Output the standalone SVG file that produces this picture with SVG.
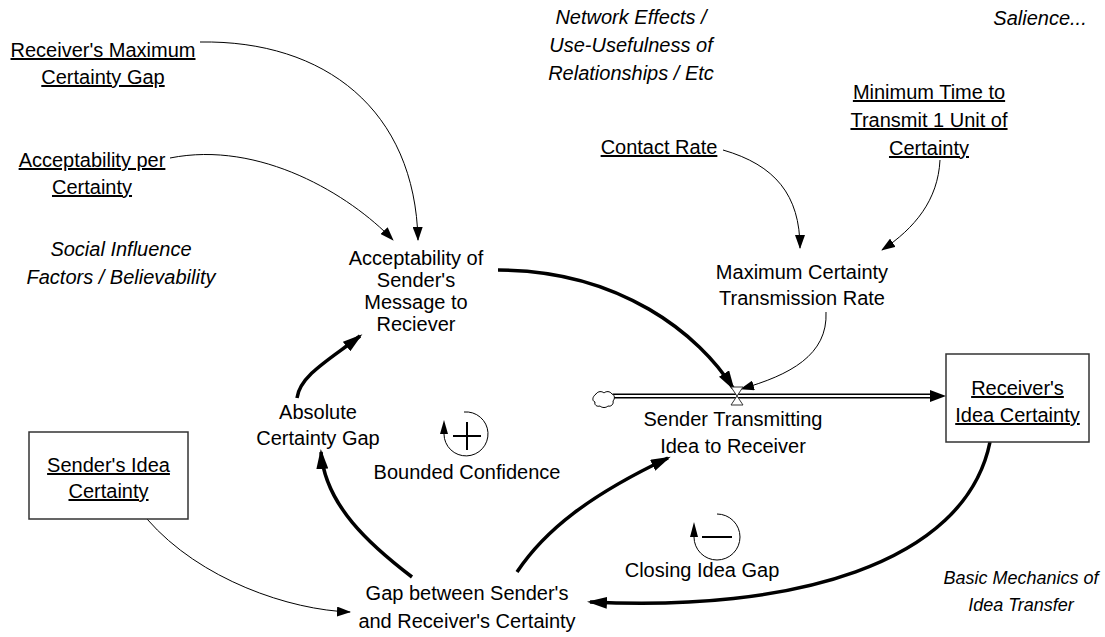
<svg xmlns="http://www.w3.org/2000/svg" width="1105" height="637" viewBox="0 0 1105 637">
  <style>
    text { font-family: "Liberation Sans", Arial, sans-serif; font-size: 20px; fill: #000; text-anchor: middle; }
    .u { text-decoration: underline; }
    .i { font-style: italic; }
    text.small { font-size: 18px; }
    .thin { fill: none; stroke: #000; stroke-width: 1; }
    .thick { fill: none; stroke: #000; stroke-width: 3.5; }
    .box { fill: #fff; stroke: #333; stroke-width: 1.5; }
  </style>
  <defs>
    <marker id="ah" viewBox="0 0 14 10" refX="13" refY="5" markerWidth="14" markerHeight="10" markerUnits="userSpaceOnUse" orient="auto">
      <path d="M0,0 L14,5 L0,10 z" fill="#000"/>
    </marker>
    <marker id="ahThick" viewBox="0 0 20 12" refX="17" refY="6" markerWidth="20" markerHeight="12" markerUnits="userSpaceOnUse" orient="auto">
      <path d="M0,0 L20,6 L0,12 z" fill="#000"/>
    </marker>
  </defs>
  <rect width="1105" height="637" fill="#fff"/>

  <!-- connectors -->
  <g id="connectors">
    <path class="thin" d="M200,42 C325,40 415,110 418,240" marker-end="url(#ah)"/>
    <path class="thin" d="M170,158 C260,140 350,195 393,240" marker-end="url(#ah)"/>
    <path class="thin" d="M723,150 C775,165 800,195 800,248" marker-end="url(#ah)"/>
    <path class="thin" d="M940,160 C938,200 915,228 882,250" marker-end="url(#ah)"/>
    <path class="thin" d="M826,312 C828,355 790,375 741,389" marker-end="url(#ah)"/>
    <path class="thick" d="M498,270 C620,270 700,335 733,388" marker-end="url(#ahThick)"/>
    <path class="thick" d="M517,572 C545,530 590,495 668,458" marker-end="url(#ahThick)"/>
    <path class="thick" d="M412,577 C370,545 325,505 321,452" marker-end="url(#ahThick)"/>
    <path class="thick" d="M297,398 C300,375 332,358 360,336" marker-end="url(#ahThick)"/>
    <path class="thin" d="M147,519 C200,580 290,610 350,612" marker-end="url(#ah)"/>
    <path class="thick" d="M990,442 C965,565 790,612 590,602" marker-end="url(#ahThick)"/>
  </g>

  <!-- flow pipe into the receiver stock -->
  <g id="flow">
    <path d="M613,396 H932" stroke="#000" stroke-width="5" fill="none"/>
    <path d="M613,396 H932" stroke="#fff" stroke-width="2" fill="none"/>
    <path d="M930,390 L946,396 L930,402 z" fill="#000"/>
    <path d="M596,394 c2,-3 6,-3 8,-1 c2,-2 6,-2 8,1 c3,1 3,5 1,7 c1,3 -2,6 -5,5 c-2,2 -6,2 -8,0 c-3,1 -6,-1 -5,-4 c-3,-1 -3,-5 1,-8 z" fill="#fff" stroke="#000" stroke-width="1"/>
    <path d="M731,387 L743,387 L737,396 L743,405 L731,405 L737,396 z" fill="#fff" stroke="#333" stroke-width="1"/>
  </g>

  <g id="receivers-max-gap">
    <text class="u" x="103" y="57">Receiver's Maximum</text>
    <text class="u" x="103" y="84">Certainty Gap</text>
  </g>
  <g id="acceptability-per-certainty">
    <text class="u" x="92" y="167">Acceptability per</text>
    <text class="u" x="92" y="194">Certainty</text>
  </g>
  <g id="social-influence-note">
    <text class="i" x="121" y="256">Social Influence</text>
    <text class="i" x="121" y="284">Factors / Believability</text>
  </g>
  <g id="network-effects-note">
    <text class="i" x="631" y="24">Network Effects /</text>
    <text class="i" x="631" y="52">Use-Usefulness of</text>
    <text class="i" x="631" y="80">Relationships / Etc</text>
  </g>
  <g id="salience-note">
    <text class="i" x="1040" y="25">Salience...</text>
  </g>
  <g id="minimum-time">
    <text class="u" x="929" y="99">Minimum Time to</text>
    <text class="u" x="929" y="127">Transmit 1 Unit of</text>
    <text class="u" x="929" y="155">Certainty</text>
  </g>
  <g id="contact-rate">
    <text class="u" x="659" y="154">Contact Rate</text>
  </g>
  <g id="max-transmission-rate">
    <text x="802" y="279">Maximum Certainty</text>
    <text x="802" y="305">Transmission Rate</text>
  </g>
  <g id="acceptability">
    <text x="416" y="265">Acceptability of</text>
    <text x="416" y="287">Sender's</text>
    <text x="416" y="309">Message to</text>
    <text x="416" y="331">Reciever</text>
  </g>
  <g id="absolute-gap">
    <text x="318" y="419">Absolute</text>
    <text x="318" y="445">Certainty Gap</text>
  </g>
  <g id="bounded-confidence-loop">
    <path d="M464,412 A22,22 0 1 1 444,434" fill="none" stroke="#000" stroke-width="1"/>
    <path d="M444,420 L440,434 L448,434 z" fill="#000"/>
    <path d="M453,436 H481 M467,422 V450" stroke="#000" stroke-width="2"/>
    <text x="467" y="479">Bounded Confidence</text>
  </g>
  <g id="closing-gap-loop">
    <path d="M717,514 A23,23 0 1 1 694,537" fill="none" stroke="#000" stroke-width="1"/>
    <path d="M694,522 L690,537 L698,537 z" fill="#000"/>
    <path d="M702,537 H732" stroke="#000" stroke-width="2"/>
    <text x="702" y="577">Closing Idea Gap</text>
  </g>
  <g id="sender-transmitting">
    <text x="733" y="426">Sender Transmitting</text>
    <text x="733" y="453">Idea to Receiver</text>
  </g>
  <g id="receivers-certainty">
    <rect class="box" x="946" y="354" width="143" height="88"/>
    <text class="u" x="1017.5" y="395">Receiver's</text>
    <text class="u" x="1017.5" y="422">Idea Certainty</text>
  </g>
  <g id="senders-certainty">
    <rect class="box" x="29" y="432" width="159" height="87"/>
    <text class="u" x="108.5" y="472">Sender's Idea</text>
    <text class="u" x="108.5" y="498">Certainty</text>
  </g>
  <g id="gap-between">
    <text x="467" y="600">Gap between Sender's</text>
    <text x="467" y="628">and Receiver's Certainty</text>
  </g>
  <g id="basic-mechanics-note">
    <text class="i small" x="1021" y="584">Basic Mechanics of</text>
    <text class="i small" x="1021" y="611">Idea Transfer</text>
  </g>
</svg>
